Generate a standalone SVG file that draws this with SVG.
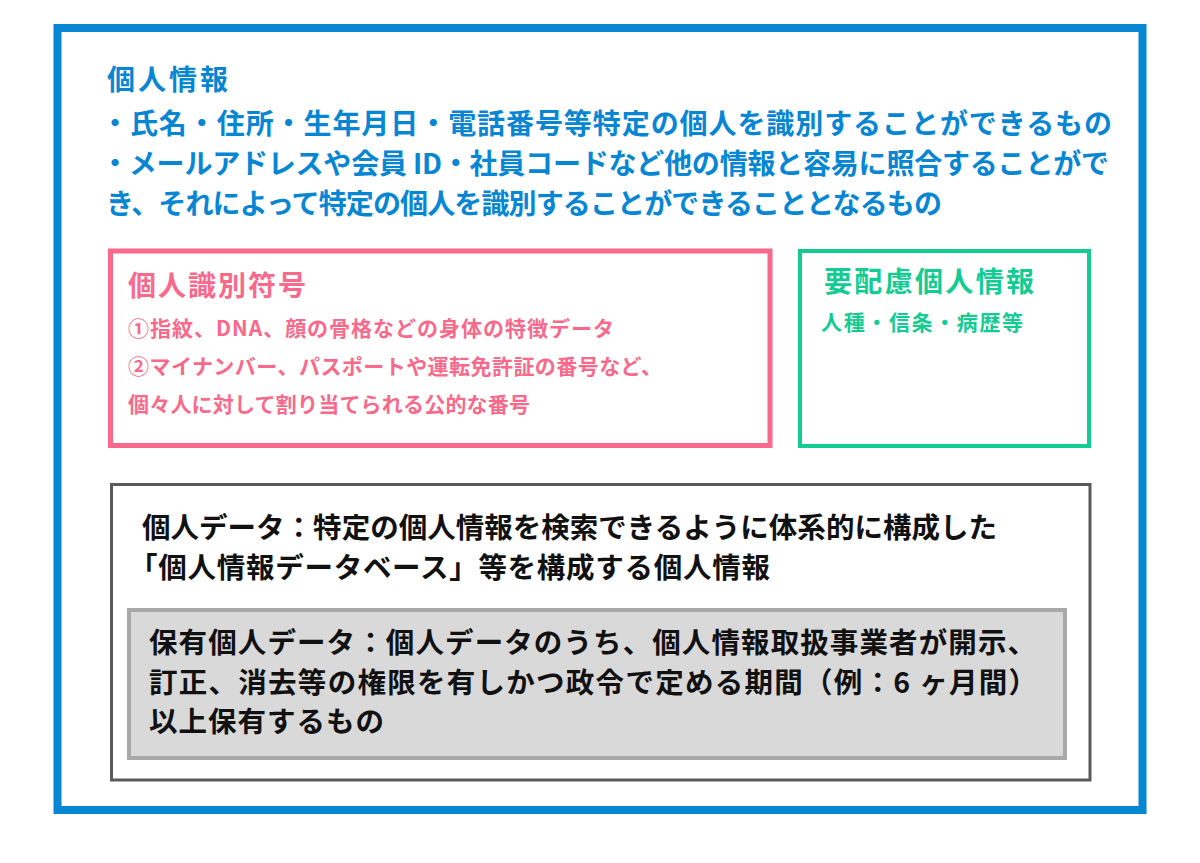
<svg xmlns="http://www.w3.org/2000/svg" width="1200" height="863" viewBox="0 0 1200 863">
<style>
.t{font-family:"Noto Sans CJK JP","Noto Sans",sans-serif;font-weight:700}
.blue{fill:#0786d4}
.pink{fill:#f9698b}
.green{fill:#13cc93}
.dark{fill:#111111}
</style>
<rect x="0" y="0" width="1200" height="863" fill="#ffffff"/>
<g id="personal-info">
<rect x="57.5" y="28" width="1085" height="782" fill="none" stroke="#0786d4" stroke-width="8"/>
<text class="t blue" x="107" y="90" font-size="28" textLength="121">個人情報</text>
<text class="t blue" x="101" y="134" font-size="28" textLength="1011">・氏名・住所・生年月日・電話番号等特定の個人を識別することができるもの</text>
<text class="t blue" x="101" y="174" font-size="28" textLength="1008">・メールアドレスや会員 ID・社員コードなど他の情報と容易に照合することがで</text>
<text class="t blue" x="106" y="214" font-size="28" textLength="836">き、それによって特定の個人を識別することができることとなるもの</text>
</g>
<g id="identification-code">
<rect x="110.5" y="251" width="659.5" height="194.5" fill="none" stroke="#f9698b" stroke-width="5"/>
<text class="t pink" x="128" y="296" font-size="28" textLength="178">個人識別符号</text>
<text class="t pink" x="128" y="336" font-size="21" textLength="486">①指紋、DNA、顔の骨格などの身体の特徴データ</text>
<text class="t pink" x="128" y="374" font-size="21" textLength="534">②マイナンバー、パスポートや運転免許証の番号など、</text>
<text class="t pink" x="128" y="412" font-size="21" textLength="402">個々人に対して割り当てられる公的な番号</text>
</g>
<g id="sensitive-info">
<rect x="800" y="251" width="289" height="195" fill="none" stroke="#13cc93" stroke-width="4"/>
<text class="t green" x="824" y="292" font-size="28" textLength="210">要配慮個人情報</text>
<text class="t green" x="821" y="330" font-size="21" textLength="202">人種・信条・病歴等</text>
</g>
<g id="personal-data">
<rect x="111.5" y="484.5" width="978.5" height="295.5" fill="#ffffff" stroke="#5a5a5a" stroke-width="3"/>
<text class="t dark" x="142" y="538" font-size="28.5" textLength="855">個人データ：特定の個人情報を検索できるように体系的に構成した</text>
<text class="t dark" x="129" y="578" font-size="28.5" textLength="641">「個人情報データベース」等を構成する個人情報</text>
</g>
<g id="retained-data">
<rect x="129" y="610" width="936" height="148" fill="#d9d9d9" stroke="#a8a8a8" stroke-width="4"/>
<text class="t dark" x="149" y="653" font-size="28.5" textLength="887">保有個人データ：個人データのうち、個人情報取扱事業者が開示、</text>
<text class="t dark" x="149" y="693" font-size="28.5" textLength="888">訂正、消去等の権限を有しかつ政令で定める期間（例：6 ヶ月間）</text>
<text class="t dark" x="149" y="732" font-size="28.5" textLength="235">以上保有するもの</text>
</g>
<g id="connectors"></g>
</svg>
